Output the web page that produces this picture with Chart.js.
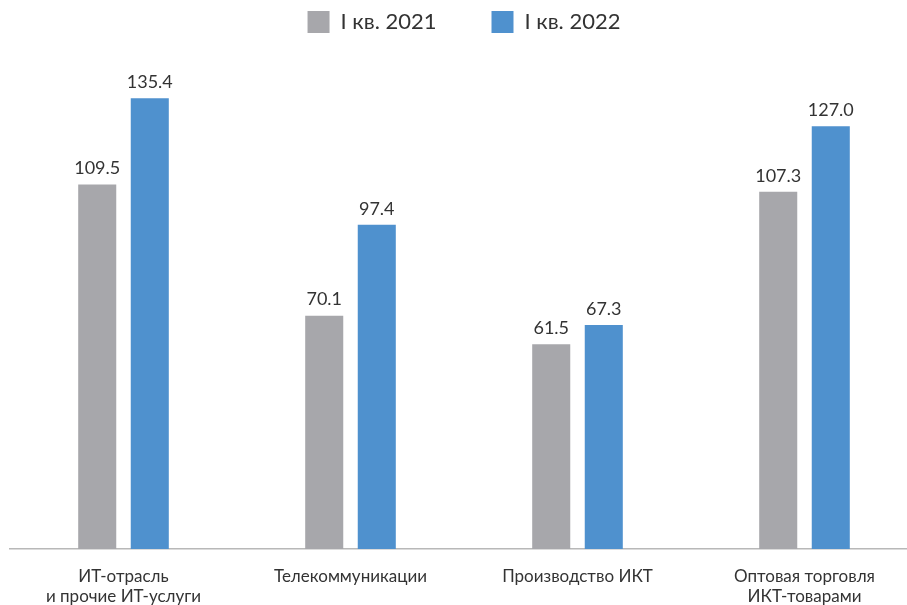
<!DOCTYPE html>
<html>
<head>
<meta charset="utf-8">
<script src="https://cdn.jsdelivr.net/npm/chart.js@4"></script>
<style>
  html, body { margin: 0; padding: 0; background: #fff; overflow: hidden; }
  .chart-box { position: absolute; left: 0; top: 0; width: 918px; height: 605px; }
</style>
</head>
<body>
<div class="chart-box"><canvas id="myChart"></canvas></div>
<script>
const categories = [
    ["ИТ-отрасль", "и прочие ИТ-услуги"],
    "Телекоммуникации",
    "Производство ИКТ",
    ["Оптовая торговля", "ИКТ-товарами"]
];
const seriesNames = ["I кв. 2021", "I кв. 2022"];
const values2021 = [109.5, 70.1, 61.5, 107.3];
const values2022 = [135.4, 97.4, 67.3, 127.0];

const textColor = "#333333";
const fontFamily = "Lato, 'Open Sans', sans-serif";

// value labels above each bar
const valueLabels = {
    id: "valueLabels",
    afterDatasetsDraw(chart) {
        const ctx = chart.ctx;
        ctx.save();
        ctx.fillStyle = textColor;
        ctx.font = "18px " + fontFamily;
        ctx.textAlign = "center";
        ctx.textBaseline = "bottom";
        chart.data.datasets.forEach((ds, i) => {
            chart.getDatasetMeta(i).data.forEach((bar, j) => {
                ctx.fillText(ds.data[j].toFixed(1), bar.x, bar.y - 7);
            });
        });
        ctx.restore();
    }
};

const ctx = document.getElementById("myChart");

new Chart(ctx, {
    type: "bar",
    data: {
        labels: categories,
        datasets: [
            {
                label: seriesNames[0],
                data: values2021,
                backgroundColor: "rgb(167, 167, 171)",
                categoryPercentage: 0.463,
                barPercentage: 0.724
            },
            {
                label: seriesNames[1],
                data: values2022,
                backgroundColor: "rgb(79, 145, 206)",
                categoryPercentage: 0.463,
                barPercentage: 0.724
            }
        ]
    },
    options: {
        responsive: true,
        maintainAspectRatio: false,
        animation: false,
        layout: { padding: { left: 10, right: 0, top: -44, bottom: 0 } },
        plugins: {
            legend: {
                position: "top",
                labels: {
                    boxWidth: 22,
                    boxHeight: 22,
                    padding: 55,
                    color: textColor,
                    font: { size: 22, family: fontFamily }
                }
            },
            tooltip: { enabled: false }
        },
        scales: {
            x: {
                grid: { display: false },
                border: { display: true, color: "#b8b8b8", width: 1.5 },
                ticks: {
                    color: textColor,
                    font: { size: 17, family: fontFamily },
                    padding: 9,
                    maxRotation: 0
                },
                afterFit(scale) { scale.height = 56; }
            },
            y: {
                display: false,
                min: 0,
                max: 152
            }
        }
    },
    plugins: [valueLabels]
});
</script>
</body>
</html>
